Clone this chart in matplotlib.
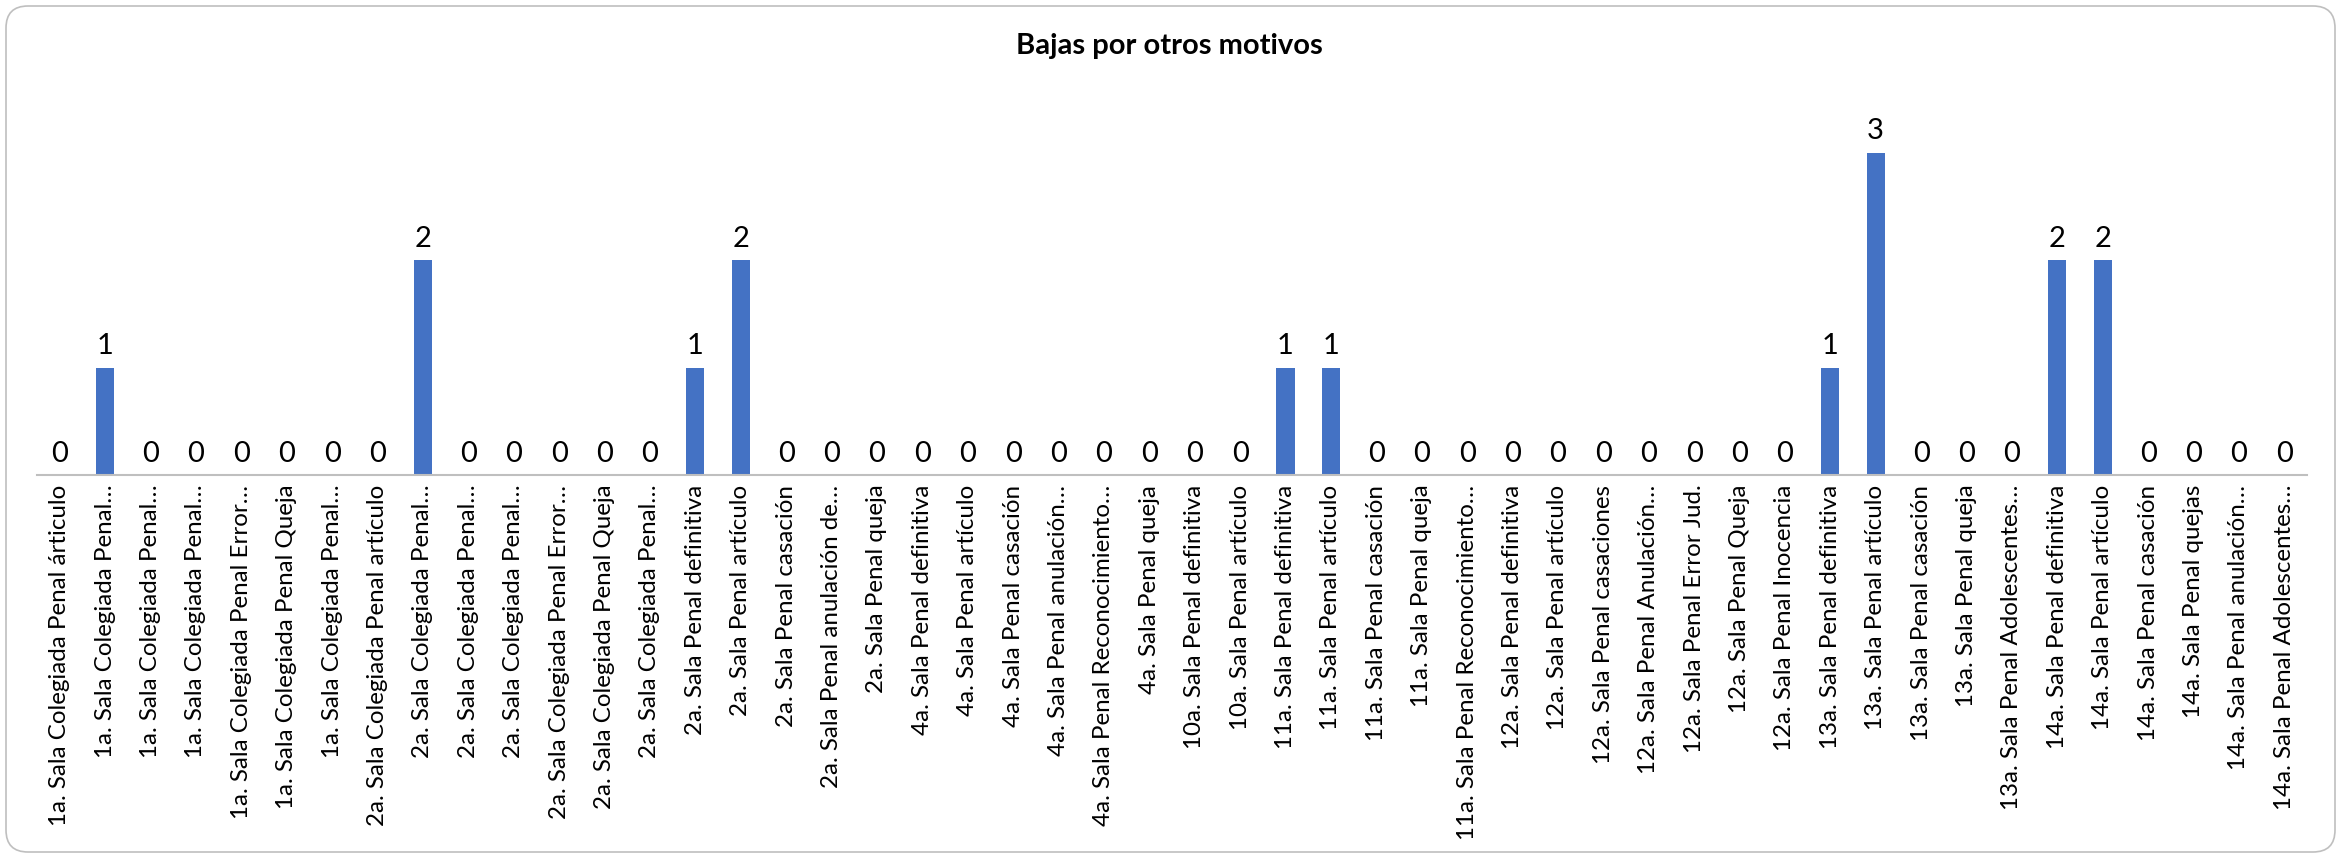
import matplotlib.pyplot as plt
from matplotlib.patches import FancyBboxPatch

plt.rcParams['font.family'] = ['Lato', 'DejaVu Sans']

# categories and values
labels = [
    "1a. Sala Colegiada Penal árticulo", "1a. Sala Colegiada Penal…",
    "1a. Sala Colegiada Penal…", "1a. Sala Colegiada Penal…",
    "1a. Sala Colegiada Penal Error…", "1a. Sala Colegiada Penal Queja",
    "1a. Sala Colegiada Penal…", "2a. Sala Colegiada Penal artículo",
    "2a. Sala Colegiada Penal…", "2a. Sala Colegiada Penal…",
    "2a. Sala Colegiada Penal…", "2a. Sala Colegiada Penal Error…",
    "2a. Sala Colegiada Penal Queja", "2a. Sala Colegiada Penal…",
    "2a. Sala Penal definitiva", "2a. Sala Penal artículo",
    "2a. Sala Penal casación", "2a. Sala Penal anulación de…",
    "2a. Sala Penal queja", "4a. Sala Penal definitiva",
    "4a. Sala Penal artículo", "4a. Sala Penal casación",
    "4a. Sala Penal anulación…", "4a. Sala Penal Reconocimiento…",
    "4a. Sala Penal queja", "10a. Sala Penal definitiva",
    "10a. Sala Penal artículo", "11a. Sala Penal definitiva",
    "11a. Sala Penal artículo", "11a. Sala Penal casación",
    "11a. Sala Penal queja", "11a. Sala Penal Reconocimiento…",
    "12a. Sala Penal definitiva", "12a. Sala Penal artículo",
    "12a. Sala Penal casaciones", "12a. Sala Penal Anulación…",
    "12a. Sala Penal Error Jud.", "12a. Sala Penal Queja",
    "12a. Sala Penal Inocencia", "13a. Sala Penal definitiva",
    "13a. Sala Penal artículo", "13a. Sala Penal casación",
    "13a. Sala Penal queja", "13a. Sala Penal Adolescentes…",
    "14a. Sala Penal definitiva", "14a. Sala Penal artículo",
    "14a. Sala Penal casación", "14a. Sala Penal quejas",
    "14a. Sala Penal anulación…", "14a. Sala Penal Adolescentes…",
]
values = [0, 1, 0, 0, 0, 0, 0, 0, 2, 0,
          0, 0, 0, 0, 1, 2, 0, 0, 0, 0,
          0, 0, 0, 0, 0, 0, 0, 1, 1, 0,
          0, 0, 0, 0, 0, 0, 0, 0, 0, 1,
          3, 0, 0, 0, 2, 2, 0, 0, 0, 0]

W, H = 2341, 858
fig = plt.figure(figsize=(W / 100, H / 100), dpi=100)

# rounded chart border (pixel coordinates)
border = FancyBboxPatch((6, 6), W - 12, H - 12,
                        boxstyle="round,pad=0,rounding_size=22",
                        transform=None, facecolor='none',
                        edgecolor='#bfbfbf', linewidth=1.2, zorder=-1)
fig.patches.append(border)

ax = fig.add_axes([37 / W, 1 - 475 / H, (2307 - 37) / W, (475 - 99) / H])
ax.set_facecolor('none')

x = list(range(len(labels)))
bars = ax.bar(x, values, width=0.4, color='#4472c4')
ax.set_xlim(-0.5, len(labels) - 0.5)
ax.set_ylim(0, 3.5)

for xi, v in zip(x, values):
    ax.annotate(str(v), (xi, v), xytext=(0, 6), textcoords='offset points',
                ha='center', va='bottom', fontsize=21, color='black')

ax.set_xticks(x)
ax.set_xticklabels(labels, rotation=90, fontsize=17.4, va='top', ha='center')
ax.tick_params(axis='x', length=0, pad=7)
ax.set_yticks([])
for s in ['top', 'left', 'right']:
    ax.spines[s].set_visible(False)
ax.spines['bottom'].set_color('#bfbfbf')
ax.spines['bottom'].set_linewidth(1.5)

fig.text(1169 / W, 1 - 46 / H, "Bajas por otros motivos", ha='center', va='center',
         fontsize=21, fontweight='bold')

fig.savefig('out.png', dpi=100)
